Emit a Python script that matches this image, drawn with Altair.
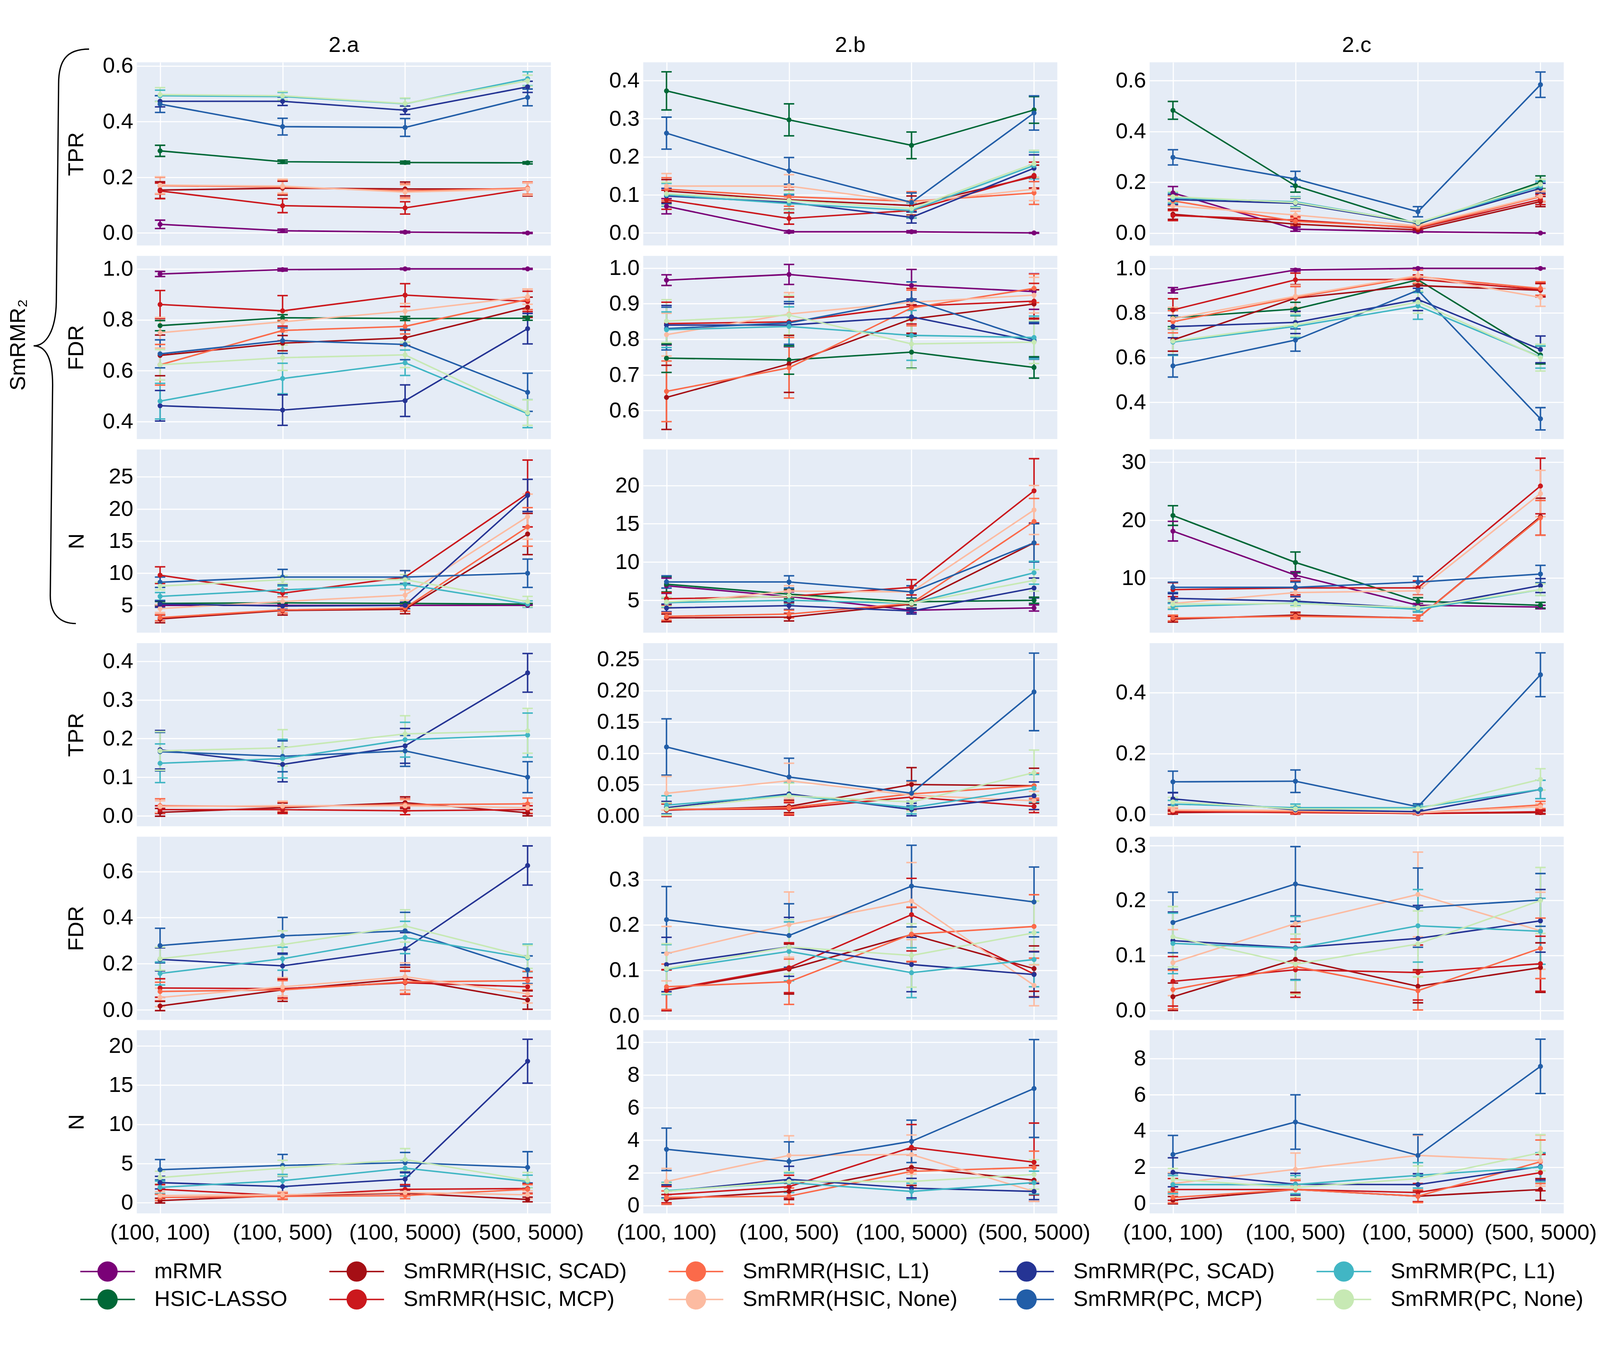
import altair as alt
import pandas as pd

X_LABELS = ["(100, 100)", "(100, 500)", "(100, 5000)", "(500, 5000)"]
COLUMNS = ["2.a", "2.b", "2.c"]
METRICS = ["TPR", "FDR", "N"]
METHODS = ["mRMR", "HSIC-LASSO", "SmRMR(HSIC, SCAD)", "SmRMR(HSIC, MCP)", "SmRMR(HSIC, L1)",
           "SmRMR(HSIC, None)", "SmRMR(PC, SCAD)", "SmRMR(PC, MCP)", "SmRMR(PC, L1)", "SmRMR(PC, None)"]
COLORS = ["#7a0177", "#006837", "#a50f15", "#cb181d", "#fb6a4a",
          "#fcbba1", "#253494", "#225ea8", "#41b6c4", "#c7e9b4"]
LEGEND_ORDER = ["mRMR", "SmRMR(HSIC, SCAD)", "SmRMR(HSIC, L1)", "SmRMR(PC, SCAD)", "SmRMR(PC, L1)",
                "HSIC-LASSO", "SmRMR(HSIC, MCP)", "SmRMR(HSIC, None)", "SmRMR(PC, MCP)", "SmRMR(PC, None)"]

# ---------------- top group (10 methods) ----------------
A_TPR = [[0.031, 0.008, 0.003, 0.0], [0.295, 0.256, 0.253, 0.252], [0.154, 0.161, 0.158, 0.158],
         [0.151, 0.098, 0.09, 0.158], [0.17, 0.165, 0.151, 0.161], [0.172, 0.168, 0.147, 0.158],
         [0.473, 0.473, 0.441, 0.525], [0.463, 0.382, 0.379, 0.487], [0.493, 0.49, 0.464, 0.554],
         [0.497, 0.493, 0.465, 0.547]]
A_TPR_ERR = [[0.015, 0.006, 0.003, 0.002], [0.02, 0.006, 0.005, 0.004], [0.03, 0.025, 0.025, 0.025],
             [0.028, 0.025, 0.022, 0.022], [0.03, 0.025, 0.025, 0.022], [0.03, 0.025, 0.025, 0.022],
             [0.02, 0.015, 0.015, 0.02], [0.03, 0.03, 0.032, 0.03], [0.02, 0.015, 0.02, 0.025],
             [0.025, 0.015, 0.02, 0.02]]
A_FDR = [[0.98, 0.997, 1.0, 1.0], [0.777, 0.808, 0.805, 0.806], [0.66, 0.708, 0.729, 0.849],
         [0.86, 0.835, 0.897, 0.872], [0.623, 0.758, 0.774, 0.88], [0.749, 0.792, 0.834, 0.891],
         [0.462, 0.445, 0.482, 0.765], [0.666, 0.718, 0.703, 0.515], [0.48, 0.569, 0.631, 0.431],
         [0.623, 0.651, 0.662, 0.435]]
A_FDR_ERR = [[0.01, 0.005, 0.003, 0.002], [0.02, 0.012, 0.008, 0.008], [0.08, 0.03, 0.03, 0.04],
             [0.055, 0.06, 0.045, 0.04], [0.08, 0.04, 0.03, 0.04], [0.06, 0.04, 0.03, 0.03],
             [0.06, 0.06, 0.062, 0.06], [0.055, 0.05, 0.06, 0.075], [0.07, 0.06, 0.05, 0.055],
             [0.06, 0.05, 0.05, 0.05]]
A_N = [[5.0, 5.0, 5.0, 5.0], [5.3, 5.4, 5.3, 5.2], [2.9, 4.2, 4.4, 16.1],
       [9.7, 6.9, 9.4, 22.4], [3.1, 4.3, 4.6, 17.2], [4.5, 5.6, 6.6, 18.8],
       [5.2, 4.9, 5.0, 22.1], [8.6, 9.4, 9.4, 10.0], [6.4, 7.4, 8.3, 5.2],
       [8.0, 9.0, 9.0, 5.6]]
A_N_ERR = [[0.1, 0.1, 0.1, 0.1], [0.3, 0.2, 0.15, 0.1], [0.6, 0.7, 0.7, 3.2],
           [1.3, 0.6, 1.0, 5.2], [0.5, 0.5, 0.5, 3.0], [0.6, 0.6, 0.8, 3.5],
           [0.5, 0.5, 0.5, 2.5], [0.8, 1.2, 1.0, 2.2], [0.6, 0.6, 0.8, 0.5],
           [0.6, 0.6, 0.8, 0.8]]

B_TPR = [[0.07, 0.003, 0.003, 0.0], [0.373, 0.297, 0.23, 0.323], [0.11, 0.087, 0.072, 0.148],
         [0.087, 0.038, 0.059, 0.151], [0.115, 0.095, 0.083, 0.105], [0.123, 0.123, 0.08, 0.115],
         [0.097, 0.08, 0.041, 0.17], [0.262, 0.163, 0.08, 0.315], [0.1, 0.077, 0.059, 0.177],
         [0.103, 0.085, 0.064, 0.182]]
B_TPR_ERR = [[0.02, 0.003, 0.003, 0.001], [0.05, 0.042, 0.035, 0.035], [0.03, 0.025, 0.025, 0.03],
             [0.025, 0.015, 0.02, 0.035], [0.03, 0.025, 0.025, 0.03], [0.033, 0.03, 0.025, 0.03],
             [0.02, 0.02, 0.015, 0.035], [0.042, 0.035, 0.025, 0.045], [0.03, 0.025, 0.02, 0.035],
             [0.03, 0.025, 0.02, 0.035]]
B_FDR = [[0.966, 0.982, 0.951, 0.934], [0.747, 0.742, 0.764, 0.721], [0.637, 0.731, 0.857, 0.899],
         [0.844, 0.849, 0.893, 0.907], [0.654, 0.72, 0.888, 0.943], [0.813, 0.871, 0.904, 0.924],
         [0.84, 0.84, 0.863, 0.794], [0.83, 0.846, 0.911, 0.798], [0.827, 0.836, 0.811, 0.805],
         [0.851, 0.868, 0.787, 0.792]]
B_FDR_ERR = [[0.015, 0.028, 0.045, 0.05], [0.04, 0.04, 0.045, 0.03], [0.09, 0.08, 0.04, 0.04],
             [0.06, 0.07, 0.05, 0.05], [0.085, 0.085, 0.05, 0.04], [0.06, 0.06, 0.05, 0.05],
             [0.055, 0.06, 0.05, 0.05], [0.06, 0.06, 0.05, 0.05], [0.05, 0.055, 0.07, 0.06],
             [0.06, 0.055, 0.07, 0.06]]
B_N = [[6.9, 5.5, 3.7, 4.0], [7.1, 5.8, 4.8, 5.0], [2.7, 2.8, 4.5, 12.5],
       [5.2, 5.5, 6.7, 19.3], [2.9, 3.2, 4.6, 15.3], [4.6, 6.2, 6.1, 16.8],
       [4.0, 4.3, 3.6, 6.6], [7.4, 7.4, 6.1, 12.5], [4.7, 5.0, 4.6, 8.6],
       [4.8, 5.6, 4.6, 7.6]]
B_N_ERR = [[1.0, 0.6, 0.3, 0.4], [1.0, 0.6, 0.4, 0.4], [0.5, 0.5, 0.6, 2.5],
           [0.8, 0.8, 1.0, 4.2], [0.5, 0.5, 0.5, 3.0], [0.6, 0.7, 0.8, 3.2],
           [0.5, 0.5, 0.4, 1.3], [0.8, 0.8, 0.8, 2.5], [0.6, 0.5, 0.5, 1.5],
           [0.6, 0.6, 0.5, 1.4]]

C_TPR = [[0.158, 0.015, 0.005, 0.0], [0.483, 0.186, 0.035, 0.2], [0.074, 0.035, 0.012, 0.124],
         [0.069, 0.051, 0.02, 0.132], [0.127, 0.046, 0.023, 0.143], [0.107, 0.071, 0.028, 0.146],
         [0.132, 0.117, 0.038, 0.176], [0.298, 0.213, 0.084, 0.584], [0.138, 0.123, 0.04, 0.184],
         [0.143, 0.12, 0.041, 0.192]]
C_TPR_ERR = [[0.025, 0.008, 0.003, 0.001], [0.035, 0.025, 0.01, 0.025], [0.02, 0.01, 0.005, 0.02],
             [0.02, 0.015, 0.008, 0.02], [0.02, 0.015, 0.008, 0.02], [0.02, 0.015, 0.008, 0.02],
             [0.02, 0.02, 0.01, 0.02], [0.03, 0.03, 0.02, 0.05], [0.02, 0.02, 0.01, 0.02],
             [0.02, 0.02, 0.01, 0.02]]
C_FDR = [[0.902, 0.993, 1.0, 1.0], [0.779, 0.818, 0.949, 0.612], [0.679, 0.867, 0.923, 0.902],
         [0.814, 0.949, 0.951, 0.905], [0.761, 0.87, 0.963, 0.91], [0.775, 0.875, 0.968, 0.87],
         [0.739, 0.758, 0.861, 0.637], [0.563, 0.679, 0.902, 0.326], [0.67, 0.74, 0.832, 0.603],
         [0.674, 0.747, 0.849, 0.6]]
C_FDR_ERR = [[0.012, 0.005, 0.003, 0.002], [0.04, 0.03, 0.02, 0.04], [0.05, 0.06, 0.03, 0.03],
             [0.05, 0.03, 0.02, 0.03], [0.05, 0.05, 0.03, 0.03], [0.05, 0.05, 0.03, 0.04],
             [0.05, 0.05, 0.05, 0.06], [0.05, 0.05, 0.05, 0.05], [0.06, 0.05, 0.06, 0.05],
             [0.06, 0.05, 0.05, 0.06]]
C_N = [[18.1, 10.5, 5.3, 5.0], [20.8, 12.7, 6.0, 5.3], [2.9, 3.6, 3.1, 20.6],
       [8.0, 8.3, 8.3, 25.9], [3.1, 3.4, 3.1, 20.4], [5.6, 7.5, 7.8, 24.6],
       [6.5, 6.0, 4.8, 8.7], [8.4, 8.4, 9.3, 10.7], [5.1, 5.7, 4.6, 8.0],
       [5.5, 5.6, 4.9, 8.0]]
C_N_ERR = [[1.7, 0.6, 0.3, 0.3], [1.7, 1.8, 0.6, 0.5], [0.5, 0.5, 0.5, 3.2],
           [1.2, 1.2, 1.2, 4.8], [0.5, 0.5, 0.5, 3.0], [0.8, 0.8, 0.8, 4.0],
           [0.8, 0.8, 0.5, 1.2], [0.9, 0.9, 1.0, 1.5], [0.5, 0.5, 0.5, 1.0],
           [0.5, 0.5, 0.5, 1.0]]

# ---------------- bottom group (8 SmRMR methods) ----------------
A2_TPR = [[0.009, 0.021, 0.034, 0.008], [0.016, 0.016, 0.013, 0.016], [0.026, 0.024, 0.029, 0.031],
          [0.024, 0.026, 0.026, 0.021], [0.171, 0.133, 0.181, 0.37], [0.166, 0.154, 0.168, 0.1],
          [0.136, 0.148, 0.197, 0.209], [0.168, 0.176, 0.212, 0.22]]
A2_TPR_ERR = [[0.01, 0.012, 0.015, 0.008], [0.01, 0.01, 0.01, 0.01], [0.018, 0.012, 0.015, 0.015],
              [0.015, 0.012, 0.015, 0.012], [0.05, 0.045, 0.045, 0.05], [0.05, 0.04, 0.04, 0.04],
              [0.05, 0.05, 0.045, 0.057], [0.05, 0.047, 0.047, 0.058]]
A2_FDR = [[0.017, 0.087, 0.135, 0.043], [0.095, 0.092, 0.118, 0.1], [0.08, 0.087, 0.121, 0.127],
          [0.054, 0.1, 0.144, 0.07], [0.219, 0.191, 0.265, 0.626], [0.279, 0.321, 0.343, 0.174],
          [0.158, 0.222, 0.314, 0.225], [0.222, 0.283, 0.364, 0.23]]
A2_FDR_ERR = [[0.02, 0.05, 0.05, 0.04], [0.04, 0.04, 0.05, 0.04], [0.04, 0.04, 0.05, 0.04],
              [0.04, 0.04, 0.06, 0.04], [0.05, 0.055, 0.07, 0.085], [0.075, 0.08, 0.08, 0.06],
              [0.05, 0.05, 0.07, 0.06], [0.05, 0.06, 0.07, 0.05]]
A2_N = [[0.26, 0.9, 1.2, 0.4], [1.7, 0.9, 1.7, 1.8], [0.65, 0.8, 0.9, 1.7],
        [0.9, 1.0, 1.3, 1.0], [2.55, 2.05, 3.0, 18.05], [4.2, 4.75, 5.1, 4.5],
        [1.95, 2.8, 4.4, 2.7], [3.2, 4.4, 5.5, 2.85]]
A2_N_ERR = [[0.3, 0.4, 0.4, 0.3], [0.6, 0.4, 0.6, 0.6], [0.4, 0.4, 0.4, 0.6],
            [0.5, 0.4, 0.5, 0.5], [0.8, 0.8, 0.9, 2.8], [1.3, 1.4, 1.3, 2.0],
            [0.8, 0.8, 1.0, 0.8], [0.8, 1.0, 1.4, 1.0]]

B2_TPR = [[0.009, 0.015, 0.05, 0.048], [0.01, 0.011, 0.03, 0.015], [0.01, 0.013, 0.035, 0.048],
          [0.036, 0.056, 0.033, 0.024], [0.013, 0.035, 0.01, 0.032], [0.11, 0.062, 0.036, 0.198],
          [0.017, 0.033, 0.013, 0.044], [0.011, 0.032, 0.022, 0.069]]
B2_TPR_ERR = [[0.01, 0.01, 0.027, 0.028], [0.01, 0.01, 0.02, 0.01], [0.01, 0.01, 0.02, 0.02],
              [0.027, 0.028, 0.02, 0.015], [0.01, 0.02, 0.01, 0.022], [0.045, 0.03, 0.02, 0.062],
              [0.015, 0.02, 0.01, 0.022], [0.01, 0.02, 0.015, 0.036]]
B2_FDR = [[0.056, 0.103, 0.179, 0.104], [0.057, 0.106, 0.223, 0.092], [0.064, 0.075, 0.18, 0.197],
          [0.137, 0.201, 0.253, 0.067], [0.113, 0.152, 0.113, 0.091], [0.212, 0.177, 0.286, 0.251],
          [0.102, 0.142, 0.095, 0.124], [0.104, 0.152, 0.133, 0.183]]
B2_FDR_ERR = [[0.045, 0.055, 0.06, 0.05], [0.045, 0.055, 0.08, 0.05], [0.05, 0.05, 0.06, 0.07],
              [0.06, 0.072, 0.085, 0.045], [0.06, 0.065, 0.06, 0.05], [0.073, 0.07, 0.09, 0.077],
              [0.055, 0.065, 0.055, 0.06], [0.055, 0.06, 0.07, 0.07]]
B2_N = [[0.37, 0.86, 2.33, 1.55], [0.66, 1.15, 3.56, 2.65], [0.49, 0.57, 2.09, 2.33],
        [1.47, 3.07, 3.12, 0.86], [0.86, 1.6, 1.06, 0.86], [3.44, 2.7, 3.93, 7.17],
        [0.91, 1.4, 0.86, 1.4], [0.86, 1.47, 1.47, 1.9]]
B2_N_ERR = [[0.3, 0.5, 1.1, 0.9], [0.5, 0.7, 1.4, 2.4], [0.4, 0.5, 1.0, 1.0],
            [0.8, 1.2, 1.2, 0.6], [0.4, 0.8, 0.6, 0.5], [1.3, 1.2, 1.3, 3.0],
            [0.5, 0.6, 0.5, 0.7], [0.5, 0.6, 0.6, 0.9]]

C2_TPR = [[0.006, 0.009, 0.003, 0.006], [0.009, 0.006, 0.003, 0.009], [0.013, 0.009, 0.005, 0.031],
          [0.015, 0.013, 0.005, 0.025], [0.051, 0.015, 0.009, 0.082], [0.107, 0.109, 0.025, 0.459],
          [0.034, 0.022, 0.022, 0.082], [0.041, 0.018, 0.018, 0.115]]
C2_TPR_ERR = [[0.005, 0.005, 0.003, 0.005], [0.006, 0.005, 0.003, 0.006], [0.008, 0.006, 0.004, 0.012],
              [0.008, 0.006, 0.004, 0.01], [0.02, 0.008, 0.005, 0.03], [0.035, 0.037, 0.01, 0.072],
              [0.012, 0.012, 0.008, 0.03], [0.015, 0.01, 0.008, 0.035]]
C2_FDR = [[0.025, 0.093, 0.044, 0.078], [0.053, 0.074, 0.069, 0.085], [0.038, 0.08, 0.036, 0.113],
          [0.087, 0.158, 0.211, 0.145], [0.127, 0.114, 0.131, 0.163], [0.16, 0.23, 0.187, 0.201],
          [0.122, 0.113, 0.154, 0.144], [0.134, 0.084, 0.121, 0.2]]
C2_FDR_ERR = [[0.025, 0.06, 0.03, 0.045], [0.045, 0.05, 0.05, 0.05], [0.035, 0.05, 0.035, 0.055],
              [0.06, 0.07, 0.077, 0.07], [0.052, 0.058, 0.06, 0.057], [0.055, 0.068, 0.072, 0.048],
              [0.055, 0.058, 0.066, 0.06], [0.055, 0.055, 0.06, 0.06]]
C2_N = [[0.18, 0.77, 0.4, 0.77], [0.77, 0.77, 0.6, 1.7], [0.33, 0.77, 0.4, 2.3],
        [1.1, 1.88, 2.65, 2.36], [1.72, 1.06, 1.04, 2.04], [2.7, 4.49, 2.65, 7.56],
        [1.04, 1.04, 1.55, 2.0], [1.33, 0.88, 1.37, 2.8]]
C2_N_ERR = [[0.2, 0.5, 0.3, 0.6], [0.6, 0.6, 0.5, 1.0], [0.3, 0.5, 0.35, 1.2],
            [0.6, 0.9, 1.1, 1.4], [0.8, 0.6, 0.6, 0.75], [1.05, 1.5, 1.15, 1.5],
            [0.5, 0.5, 0.7, 0.8], [0.6, 0.5, 0.7, 1.0]]

VALUES = [[A_TPR, B_TPR, C_TPR], [A_FDR, B_FDR, C_FDR], [A_N, B_N, C_N],
          [A2_TPR, B2_TPR, C2_TPR], [A2_FDR, B2_FDR, C2_FDR], [A2_N, B2_N, C2_N]]
ERRORS = [[A_TPR_ERR, B_TPR_ERR, C_TPR_ERR], [A_FDR_ERR, B_FDR_ERR, C_FDR_ERR], [A_N_ERR, B_N_ERR, C_N_ERR],
          [A2_TPR_ERR, B2_TPR_ERR, C2_TPR_ERR], [A2_FDR_ERR, B2_FDR_ERR, C2_FDR_ERR], [A2_N_ERR, B2_N_ERR, C2_N_ERR]]

# axis ranges / ticks per panel
Y_DOMAINS = [
    [[-0.045, 0.613], [-0.033, 0.448], [-0.049, 0.672]],
    [[0.331, 1.051], [0.52, 1.034], [0.235, 1.056]],
    [[0.76, 29.24], [0.77, 24.7], [0.57, 32.2]],
    [[-0.027, 0.447], [-0.0167, 0.276], [-0.039, 0.563]],
    [[-0.043, 0.751], [-0.009, 0.395], [-0.017, 0.316]],
    [[-1.38, 22.0], [-0.49, 10.74], [-0.55, 9.55]],
]
Y_TICKS = [
    [[0, 0.2, 0.4, 0.6], [0, 0.1, 0.2, 0.3, 0.4], [0, 0.2, 0.4, 0.6]],
    [[0.4, 0.6, 0.8, 1.0], [0.6, 0.7, 0.8, 0.9, 1.0], [0.4, 0.6, 0.8, 1.0]],
    [[5, 10, 15, 20, 25], [5, 10, 15, 20], [10, 20, 30]],
    [[0, 0.1, 0.2, 0.3, 0.4], [0, 0.05, 0.1, 0.15, 0.2, 0.25], [0, 0.2, 0.4]],
    [[0, 0.2, 0.4, 0.6], [0, 0.1, 0.2, 0.3], [0, 0.1, 0.2, 0.3]],
    [[0, 5, 10, 15, 20], [0, 2, 4, 6, 8, 10], [0, 2, 4, 6, 8]],
]

BRACE_LABEL = ["SmRMR₂"]

FONT = "Liberation Sans"
FS = 59
W, H = 1112, 492

rows = []
for r in range(6):
    methods = METHODS if r < 3 else METHODS[2:]
    for c in range(3):
        for m, mv, ev in zip(methods, VALUES[r][c], ERRORS[r][c]):
            for i, xl in enumerate(X_LABELS):
                rows.append({"panel": f"{r}-{c}", "method": m, "x": xl, "xi": i,
                             "mean": mv[i], "lo": mv[i] - ev[i], "hi": mv[i] + ev[i]})
df = pd.DataFrame(rows)

SC = alt.Scale(domain=LEGEND_ORDER, range=[COLORS[METHODS.index(m)] for m in LEGEND_ORDER])
# legend glyph: a short line with a dot on it (filled shapes only)
LEG_SYMBOL = ("M-1,-0.027H1V0.027H-1Z "
              "M0.37,0C0.37,0.2043 0.2043,0.37 0,0.37C-0.2043,0.37 -0.37,0.2043 -0.37,0"
              "C-0.37,-0.2043 -0.2043,-0.37 0,-0.37C0.2043,-0.37 0.37,-0.2043 0.37,0Z")
LEG = alt.Legend(orient="none", legendX=-152, legendY=3218, columns=5, title=None,
                 direction="horizontal", symbolType=LEG_SYMBOL, symbolSize=21609,
                 symbolStrokeWidth=0, labelFontSize=FS, labelFont=FONT, labelColor="black",
                 labelOffset=52, labelLimit=2000, rowPadding=15, columnPadding=112, clipHeight=60)
BRACE = ("M0.119,-1 C0.04,-1 0.013,-0.96 0.013,-0.88 L0.005,-0.12 "
         "C0.003,-0.02 -0.03,0.033 -0.074,0.033 C-0.03,0.033 -0.006,0.08 -0.008,0.18 "
         "L-0.016,0.9 C-0.017,0.97 0.02,1 0.073,1")


def panel(r, c):
    d = df[df["panel"] == f"{r}-{c}"]
    fmt = "d" if r in (2, 5) else (".2f" if (r, c) == (3, 1) else ".1f")
    ykw = dict(values=Y_TICKS[r][c], format=fmt, labelOverlap=False, labelPadding=10, grid=True)
    if c == 0:
        ykw.update(title=METRICS[r % 3], titlePadding=40 if r % 3 != 2 else 56)
    else:
        ykw["title"] = None
    yaxis = alt.Axis(**ykw)
    yscale = alt.Scale(domain=Y_DOMAINS[r][c], nice=False, zero=False)
    xkw = dict(title=None, grid=True, labelAngle=0, labelOverlap=False, labelPadding=23, labelLimit=1000)
    if r != 5:
        xkw["labels"] = False
    X = alt.X("x:N", scale=alt.Scale(type="point", domain=X_LABELS, padding=0.19), axis=alt.Axis(**xkw))

    def Y(field):
        return alt.Y(field, type="quantitative", scale=yscale, axis=yaxis)

    base = alt.Chart(d)
    err = base.mark_rule(strokeWidth=4, clip=True).encode(
        x=X, y=Y("lo"), y2="hi", color=alt.Color("method:N", scale=SC, legend=LEG))
    cap_lo = base.mark_tick(thickness=4, size=28, opacity=1, clip=True).encode(
        x=X, y=Y("lo"), color=alt.Color("method:N", scale=SC, legend=LEG))
    cap_hi = base.mark_tick(thickness=4, size=28, opacity=1, clip=True).encode(
        x=X, y=Y("hi"), color=alt.Color("method:N", scale=SC, legend=LEG))
    line = base.mark_line(strokeWidth=4, clip=True).encode(
        x=X, y=Y("mean"), color=alt.Color("method:N", scale=SC, legend=LEG), order="xi:Q")
    pts = base.mark_point(filled=True, size=180, opacity=1, strokeWidth=1, clip=True).encode(
        x=X, y=Y("mean"), color=alt.Color("method:N", scale=SC, legend=LEG))
    layers = [err, cap_lo, cap_hi, line, pts]
    if r == 0:
        tdf = pd.DataFrame({"col": [COLUMNS[c]]})
        ttl = alt.Chart(tdf).mark_text(fontSize=FS, font=FONT, color="black", align="center",
                                       baseline="alphabetic", clip=False).encode(
            x=alt.value(W / 2), y=alt.value(-28), text="col:N")
        layers.append(ttl)
    if r == 1 and c == 0:
        bdf = pd.DataFrame({"lab": BRACE_LABEL})
        brace = alt.Chart(bdf).mark_point(shape=BRACE, size=1543 ** 2, filled=False, color="black",
                                          strokeWidth=3.5, opacity=1, clip=False).encode(
            x=alt.value(-220), y=alt.value(216))
        txt = alt.Chart(bdf).mark_text(angle=270, fontSize=FS, font=FONT, color="black", align="center",
                                       baseline="middle", clip=False).encode(
            x=alt.value(-318), y=alt.value(239), text="lab:N")
        layers += [brace, txt]
    return alt.layer(*layers).properties(width=W, height=H)


panels = [panel(r, c) for r in range(6) for c in range(3)]

chart = alt.concat(*panels, columns=3, spacing={"row": 28, "column": 248}, bounds="flush").properties(
    padding={"left": 12, "top": 0, "right": 0, "bottom": 0}
).configure(font=FONT).configure_view(fill="#E5ECF6", strokeWidth=0).configure_axis(
    labelFont=FONT, titleFont=FONT, labelFontSize=FS, titleFontSize=FS, labelColor="black",
    titleColor="black", titleFontWeight="normal", gridColor="white", gridWidth=3, gridOpacity=1,
    domain=False, ticks=False
)

chart.save("out.html", embed_options={"renderer": "svg", "actions": False})
